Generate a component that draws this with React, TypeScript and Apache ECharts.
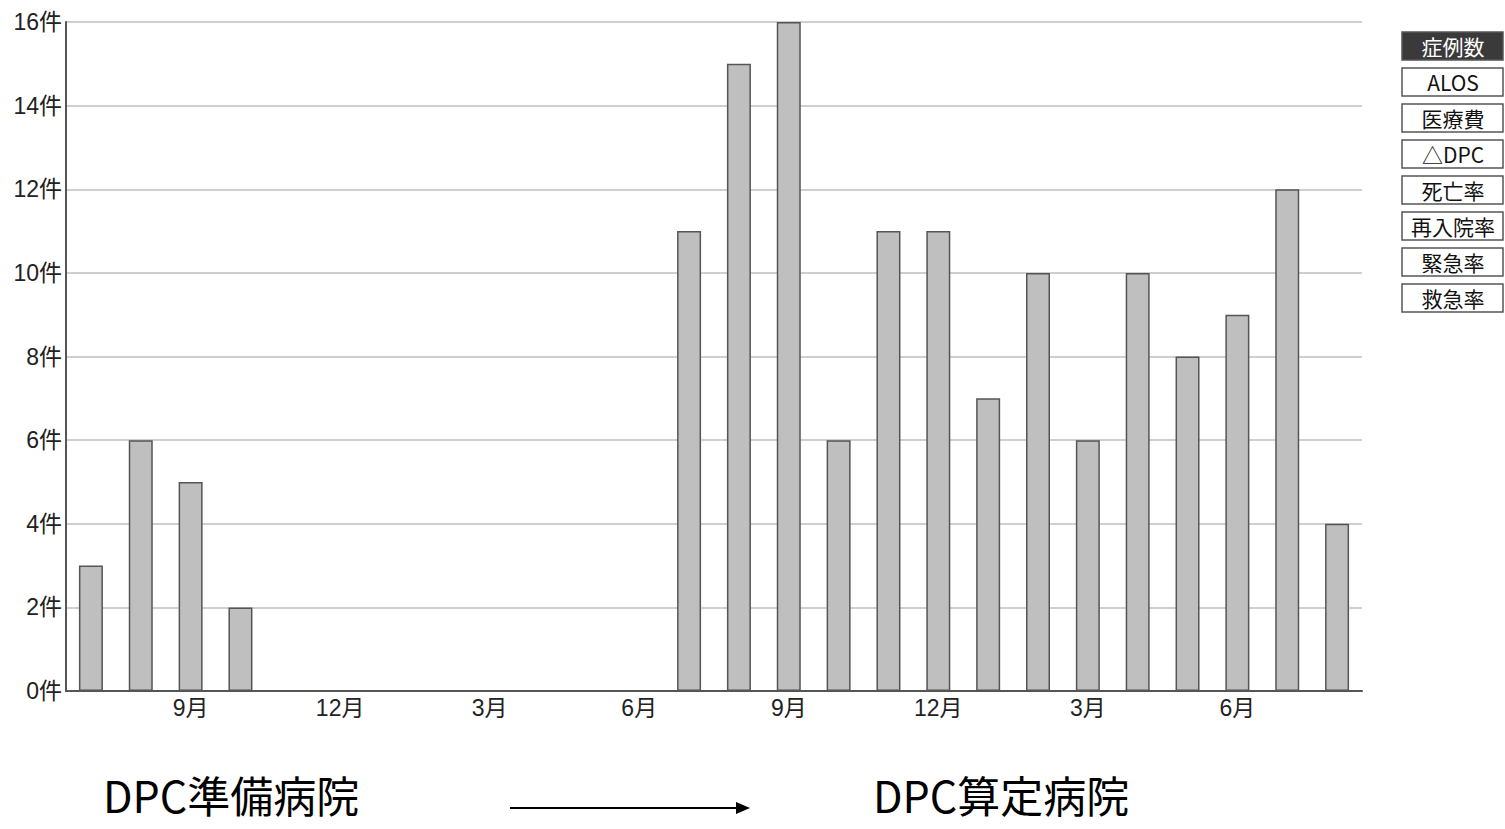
import React, { useEffect, useRef } from "react";
import * as echarts from "echarts";

const categories = [
  "7月", "8月", "9月", "10月", "11月", "12月", "1月", "2月", "3月", "4月", "5月", "6月",
  "7月", "8月", "9月", "10月", "11月", "12月", "1月", "2月", "3月", "4月", "5月", "6月",
  "7月", "8月",
];
const caseCounts: (number | null)[] = [
  3, 6, 5, 2, null, null, null, null, null, null, null, null,
  11, 15, 16, 6, 11, 11, 7, 10, 6, 10, 8, 9,
  12, 4,
];
const shownMonths = ["9月", "12月", "3月", "6月"];
const buttonLabels = ["症例数", "ALOS", "医療費", "△DPC", "死亡率", "再入院率", "緊急率", "救急率"];
const leftCaption = "DPC準備病院";
const rightCaption = "DPC算定病院";

export default function App() {
  const ref = useRef<HTMLDivElement>(null);
  useEffect(() => {
    if (!ref.current) return;
    const chart = echarts.init(ref.current, null, { renderer: "svg" });
    const font = '"Liberation Sans", "Noto Sans CJK JP", sans-serif';
    const buttons: any[] = [];
    buttonLabels.forEach((label, i) => {
      const active = i === 0;
      buttons.push({
        type: "rect",
        shape: { x: 1402, y: 32 + i * 36, width: 101, height: 28 },
        style: { fill: active ? "#3a3a3a" : "#ffffff", stroke: "#555", lineWidth: 1.5 },
      });
      buttons.push({
        type: "text",
        x: 1453,
        y: 46 + i * 36,
        style: {
          text: label,
          fill: active ? "#ffffff" : "#111",
          font: '21px "Noto Sans CJK JP", sans-serif',
          align: "center",
          verticalAlign: "middle",
        },
      });
    });
    chart.setOption({
      animation: false,
      grid: { left: 66, right: 143, top: 22, bottom: 138, containLabel: false },
      xAxis: {
        type: "category",
        data: categories,
        axisLine: { lineStyle: { color: "#555", width: 2 } },
        axisTick: { show: false },
        axisLabel: {
          interval: (idx: number, val: string) => shownMonths.includes(val),
          color: "#222",
          fontSize: 23,
          fontFamily: font,
          margin: 5,
        },
      },
      yAxis: {
        type: "value",
        min: 0,
        max: 16,
        interval: 2,
        axisLine: { show: true, lineStyle: { color: "#555", width: 2 } },
        axisTick: { show: false },
        splitLine: { lineStyle: { color: "#cfcfcf", width: 2 } },
        axisLabel: {
          formatter: "{value}件",
          color: "#222",
          fontSize: 23,
          fontFamily: font,
          margin: 4,
        },
      },
      series: [
        {
          type: "bar",
          data: caseCounts,
          barWidth: 24,
          itemStyle: { color: "#bfbfbf", borderColor: "#555", borderWidth: 1.5 },
        },
      ],
      graphic: [
        ...buttons,
        {
          type: "text",
          x: 103,
          y: 794,
          style: {
            text: leftCaption,
            fill: "#000",
            font: '43px "Noto Sans CJK JP", sans-serif',
            verticalAlign: "middle",
          },
        },
        {
          type: "text",
          x: 873,
          y: 794,
          style: {
            text: rightCaption,
            fill: "#000",
            font: '43px "Noto Sans CJK JP", sans-serif',
            verticalAlign: "middle",
          },
        },
        {
          type: "line",
          shape: { x1: 510, y1: 808, x2: 738, y2: 808 },
          style: { stroke: "#000", lineWidth: 2 },
        },
        {
          type: "polygon",
          shape: { points: [[736, 802], [750, 808], [736, 814]] },
          style: { fill: "#000" },
        },
      ],
    });
    return () => chart.dispose();
  }, []);
  return (
    <div
      ref={ref}
      style={{ position: "absolute", left: 0, top: 0, width: 1505, height: 829, background: "#fff" }}
    />
  );
}
